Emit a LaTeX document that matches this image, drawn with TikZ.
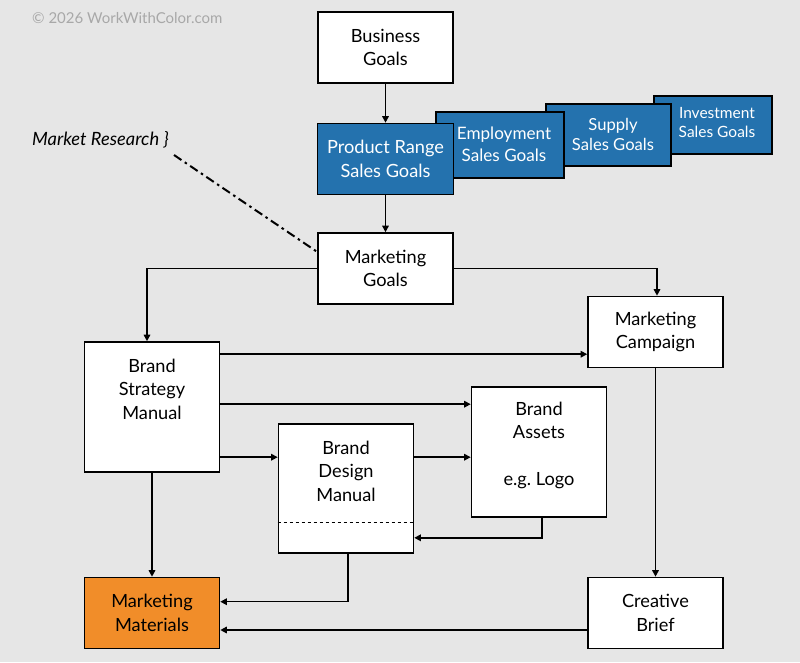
\documentclass[tikz,border=0pt]{standalone}
\usepackage{fontspec}
\setmainfont{Lato}
\usetikzlibrary{arrows.meta,calc}
\definecolor{bgc}{HTML}{E6E6E6}
\definecolor{blu}{HTML}{2472AE}
\definecolor{org}{HTML}{F18D29}
\definecolor{crc}{HTML}{A8A8A8}
\frenchspacing
\begin{document}
\begin{tikzpicture}[x=1pt,y=-1pt,
 box/.style={draw=black, line width=1.6pt, fill=white, minimum width=135pt, minimum height=71pt, inner sep=0pt, align=center, font=\fontsize{18.2}{23.5}\selectfont},
 bluebox/.style={box, fill=blu, text=white},
 lbl/.style={align=center, font=\fontsize{18.2}{23.5}\selectfont, inner sep=0pt},
 conn/.style={line width=1.5pt, -{Triangle[length=6.5pt,width=6.5pt]}}]
\fill[bgc] (0,0) rectangle (800,662);
\useasboundingbox (0,0) rectangle (800,662);

\node[anchor=west, text=crc, font=\fontsize{15}{17}\selectfont, inner sep=0pt] (cr) at (32,18) {© 2026 WorkWithColor.com};
\node[anchor=west, font=\itshape\fontsize{18.3}{20}\selectfont, inner sep=0pt] (mr) at (32,140) {Market Research \}};

\node[box] (bgl) at (385.5,47.5) {Business\\Goals};

\node[bluebox, minimum width=118pt, minimum height=58pt] (inv) at (713,125) {};
\node[lbl, text=white, font=\fontsize{15.5}{19}\selectfont] (invt) at (717,123) {Investment\\Sales Goals};
\node[bluebox, minimum width=125pt, minimum height=62pt] (sup) at (608.5,135) {};
\node[lbl, text=white, font=\fontsize{16.6}{20}\selectfont] (supt) at (613,134) {Supply\\Sales Goals};
\node[bluebox, minimum width=128pt, minimum height=66pt] (emp) at (500,145) {};
\node[lbl, text=white, font=\fontsize{17.1}{22}\selectfont] (empt) at (504,144) {Employment\\Sales Goals};
\node[bluebox, minimum width=136pt] (pr) at (385.5,159) {Product Range\\Sales Goals};

\node[box] (mg) at (385.5,268.5) {Marketing\\Goals};
\node[box] (mc) at (655.5,332) {Marketing\\Campaign};

\node[box, minimum height=130pt] (bsm) at (152,407) {};
\node[lbl] (bsmt) at (152,389) {Brand\\Strategy\\Manual};

\node[box, minimum height=130pt] (ba) at (539,452) {};
\node[lbl] (bat) at (539,445.5) {Brand\\Assets\\[23.5pt]e.g. Logo};

\node[box, minimum height=129pt] (bdm) at (346,488.5) {};
\node[lbl] (bdmt) at (346,471) {Brand\\Design\\Manual};
\draw[dashed, line width=1.2pt] ($(bdm.south west)+(0,-31)$) -- ($(bdm.south east)+(0,-31)$);

\node[box, fill=org] (mm) at (152,613) {Marketing\\Materials};
\node[box] (cb) at (655.5,613) {Creative\\Brief};

% connectors
\draw[conn] (bgl) -- (pr);
\draw[conn] (pr) -- (mg);
\coordinate (mrs) at (174,155);
\draw[line width=2pt, dash pattern=on 9pt off 4pt on 2.5pt off 4pt] (mrs) -- ($(mg.north west)+(-1,19)$);

\draw[conn] (mg.west) -| ([xshift=-5pt]bsm.north);
\draw[conn] (mg.east) -| ([xshift=1.5pt]mc.north);

\coordinate (p1) at ($(bsm.north east)+(0,13)$);
\draw[conn] (p1) -- (p1 -| mc.west);
\coordinate (p2) at ($(bsm.north east)+(0,63)$);
\draw[conn] (p2) -- (p2 -| ba.west);
\coordinate (p3) at ($(bsm.north east)+(0,116)$);
\draw[conn] (p3) -- (p3 -| bdm.west);
\draw[conn] (p3 -| bdm.east) -- (p3 -| ba.west);

\draw[conn] ([xshift=3pt]ba.south) |- ($(bdm.south east)+(0,-16)$);
\draw[conn] ([xshift=2pt]bdm.south) |- ($(mm.north east)+(0,25)$);
\draw[conn] (bsm.south) -- (mm.north);
\draw[conn] (mc.south) -- (cb.north);
\coordinate (p4) at ($(cb.west)+(0,17)$);
\draw[conn] (p4) -- (p4 -| mm.east);
\end{tikzpicture}
\end{document}
